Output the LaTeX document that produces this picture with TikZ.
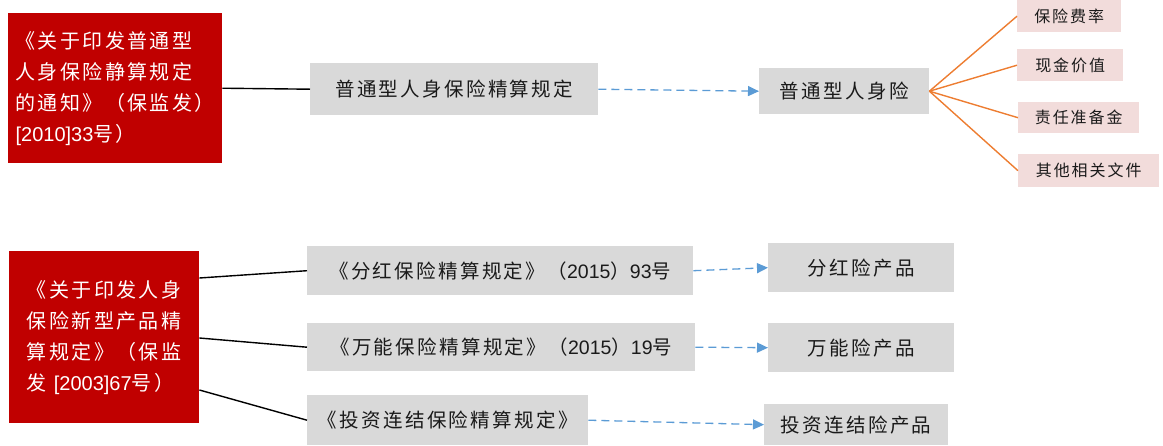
\documentclass[tikz,border=0pt]{standalone}
\usepackage{fontspec}
\setmainfont{Noto Sans CJK SC}[LetterSpace=12]
\newfontfamily\lat{Liberation Sans}
\usetikzlibrary{arrows.meta}
\definecolor{redbox}{HTML}{C00000}
\definecolor{graybox}{HTML}{D9D9D9}
\definecolor{pinkbox}{HTML}{F2DCDB}
\definecolor{orangeline}{HTML}{ED7D31}
\definecolor{blueline}{HTML}{5B9BD5}
\definecolor{txt}{HTML}{1A1A1A}
\tikzset{
  redb/.style={fill=redbox, text=white, anchor=north west, inner sep=0pt, align=left,
    font=\fontsize{20}{31}\selectfont},
  grayb/.style={fill=graybox, text=txt, anchor=north west, inner sep=0pt,
    font=\fontsize{19.5}{22}\selectfont},
  pinkb/.style={fill=pinkbox, text=txt, anchor=north west, inner sep=0pt,
    font=\fontsize{16}{18}\selectfont},
  solidlink/.style={draw=black, line width=1.4pt},
  dashlink/.style={draw=blueline, line width=1.3pt, dash pattern=on 8pt off 5pt,
    -{Triangle[length=11pt,width=10pt]}},
  fanlink/.style={draw=orangeline, line width=1.4pt},
}
\begin{document}
\begin{tikzpicture}[x=1pt,y=-1pt]
\useasboundingbox (0,0) rectangle (1163,445);
% top group
\node[redb, minimum width=214pt, minimum height=150pt] (r1) at (8,13)
  {《关于印发普通型\\人身保险静算规定\\的通知》（保监发）\\{\lat [2010]33}号）};
\node[grayb, minimum width=288pt, minimum height=52pt] (g1) at (310,63) {普通型人身保险精算规定};
\node[grayb, minimum width=170pt, minimum height=46pt] (g2) at (759,68) {普通型人身险};
\node[pinkb, minimum width=104pt, minimum height=32pt] (p1) at (1017,0) {保险费率};
\node[pinkb, minimum width=106pt, minimum height=32pt] (p2) at (1017,49) {现金价值};
\node[pinkb, minimum width=121pt, minimum height=31pt] (p3) at (1018,102) {责任准备金};
\node[pinkb, minimum width=141pt, minimum height=33pt] (p4) at (1018,154) {其他相关文件};
\draw[solidlink] (r1.east) -- (g1.west);
\draw[dashlink] (g1.east) -- (g2.west);
\foreach \p in {p1,p2,p3,p4} \draw[fanlink] (g2.east) -- (\p.west);
% bottom group
\node[redb, minimum width=190pt, minimum height=172pt] (r2) at (9,251)
  {《关于印发人身\\保险新型产品精\\算规定》（保监\\发 {\lat [2003]67}号）};
\node[grayb, minimum width=386pt, minimum height=49pt] (b1) at (307,246) {《分红保险精算规定》（{\lat 2015}）{\lat 93}号};
\node[grayb, minimum width=388pt, minimum height=48pt] (b2) at (307,323) {《万能保险精算规定》（{\lat 2015}）{\lat 19}号};
\node[grayb, minimum width=281pt, minimum height=50pt] (b3) at (307,395) {《投资连结保险精算规定》};
\node[grayb, minimum width=186pt, minimum height=49pt] (c1) at (768,243) {分红险产品};
\node[grayb, minimum width=186pt, minimum height=49pt] (c2) at (768,323) {万能险产品};
\node[grayb, minimum width=184pt, minimum height=41pt] (c3) at (764,404) {投资连结险产品};
\draw[solidlink] ([yshift=-27pt]r2.north east) -- (b1.west);
\draw[solidlink] ([yshift=-87pt]r2.north east) -- (b2.west);
\draw[solidlink] ([yshift=-139pt]r2.north east) -- (b3.west);
\draw[dashlink] (b1.east) -- (c1.west);
\draw[dashlink] (b2.east) -- (c2.west);
\draw[dashlink] (b3.east) -- (c3.west);
\end{tikzpicture}
\end{document}
